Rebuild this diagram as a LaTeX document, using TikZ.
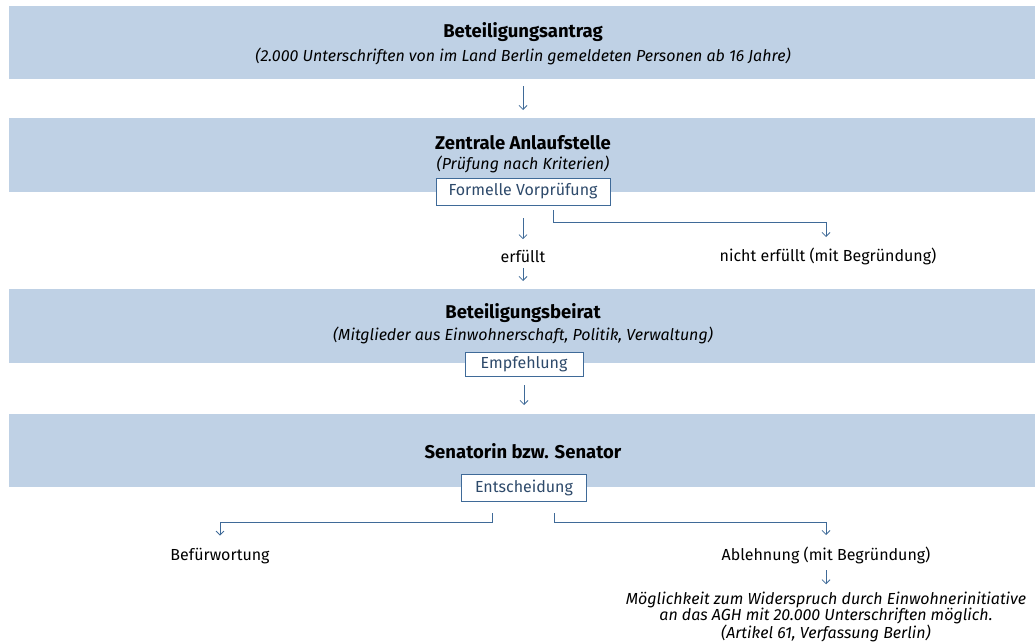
\documentclass[tikz,border=0pt]{standalone}
\usepackage{fontspec}
\setmainfont{Fira Sans}
\usetikzlibrary{arrows.meta,calc}
\definecolor{band}{HTML}{BFD1E5}
\definecolor{linec}{HTML}{3F6A98}
\definecolor{boxtext}{HTML}{2E4A6B}
\begin{document}
\begin{tikzpicture}[x=1pt,y=-1pt,
 bandnode/.style={fill=band, draw=none, minimum width=1026pt, inner sep=0pt, anchor=north west},
 title/.style={font=\fontsize{18.5}{21}\selectfont\bfseries},
 sub/.style={font=\fontsize{16}{16.5}\selectfont\itshape},
 lbl/.style={font=\fontsize{16}{18}\selectfont},
 stepbox/.style={draw=linec, fill=white, line width=0.8pt, text=boxtext, font=\fontsize{16}{18}\selectfont, inner sep=0pt},
 arr/.style={draw=linec, line width=0.8pt, -{Straight Barb[length=4pt,width=8pt]}}
]
\useasboundingbox (0,0) rectangle (1035,642);
\node[bandnode, minimum height=73pt] (b1) at (9,6) {};
\node[bandnode, minimum height=74pt] (b2) at (9,118) {};
\node[bandnode, minimum height=74pt] (b3) at (9,289) {};
\node[bandnode, minimum height=73pt] (b4) at (9,414) {};

\node[title] (t1) at (523,32) {Beteiligungsantrag};
\node[sub] (s1) at (523,56) {(2.000 Unterschriften von im Land Berlin gemeldeten Personen ab 16 Jahre)};
\node[title] (t2) at (523,143) {Zentrale Anlaufstelle};
\node[sub] (s2) at (523,164) {(Prüfung nach Kriterien)};
\node[stepbox, minimum width=174pt, minimum height=27pt] (fv) at (523,191.5) {Formelle Vorprüfung};
\node[lbl] (erf) at (523,256) {erfüllt};
\node[lbl] (nerf) at (828,256) {nicht erfüllt (mit Begründung)};
\node[title] (t3) at (523,313) {Beteiligungsbeirat};
\node[sub] (s3) at (523,335) {(Mitglieder aus Einwohnerschaft, Politik, Verwaltung)};
\node[stepbox, minimum width=118pt, minimum height=24pt] (emp) at (524,364) {Empfehlung};
\node[title] (t4) at (523,451) {Senatorin bzw. Senator};
\node[stepbox, minimum width=125pt, minimum height=27pt] (ent) at (524,487.5) {Entscheidung};
\node[lbl] (bef) at (220,556) {Befürwortung};
\node[lbl] (abl) at (826,555) {Ablehnung (mit Begründung)};
\node[sub, align=center] (wid) at (826,617) {Möglichkeit zum Widerspruch durch Einwohnerinitiative\\ an das AGH mit 20.000 Unterschriften möglich.\\ (Artikel 61, Verfassung Berlin)};

\draw[arr, shorten <=7pt, shorten >=8pt] (b1.south -| fv) -- (b2.north -| fv);
\draw[arr, shorten <=13pt, shorten >=7pt] (fv.south) -- (erf.north);
\draw[arr, shorten <=2pt, shorten >=8pt] (erf.south) -- (b3.north -| erf);
\draw[arr] ([xshift=30pt,yshift=-5pt]fv.south) -- ++(0,12) -| ([xshift=-2pt,yshift=7pt]nerf.north);
\draw[arr, shorten <=9pt, shorten >=9pt] (emp.south) -- (b4.north -| emp);
\draw[arr] ([xshift=-32pt,yshift=-12pt]ent.south) -- ++(0,9) -| ([yshift=9pt]bef.north);
\draw[arr] ([xshift=30pt,yshift=-12pt]ent.south) -- ++(0,9) -| ([yshift=8pt]abl.north);
\draw[arr, shorten <=3pt, shorten >=4pt] (abl.south) -- (wid.north);
\end{tikzpicture}
\end{document}
